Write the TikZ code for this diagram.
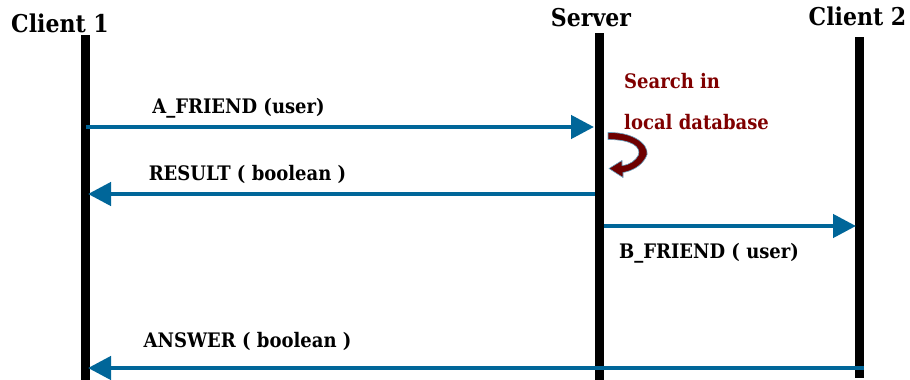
\documentclass[tikz,border=0pt]{standalone}
\usepackage{fontspec}
\setmainfont[FakeStretch=0.9]{DejaVu Serif}
\usetikzlibrary{arrows.meta}
\definecolor{msgblue}{RGB}{0,102,153}
\definecolor{noteRed}{RGB}{128,0,0}
\definecolor{loopRed}{RGB}{110,0,0}
\begin{document}
\begin{tikzpicture}[x=1pt,y=-1pt,
  actor/.style={font=\bfseries\fontsize{24.5}{28}\selectfont, inner sep=0pt, anchor=base},
  msglabel/.style={font=\bfseries\fontsize{20}{24}\selectfont, inner sep=0pt, anchor=base},
  note/.style={font=\bfseries\fontsize{20}{24}\selectfont, text=noteRed, inner sep=0pt, anchor=base west},
  lifeline/.style={line width=9pt, black},
  msg/.style={line width=4.5pt, msgblue, -{Triangle[length=23pt,width=23pt]}}
]
\useasboundingbox (0,0) rectangle (910,380);

% participants
\node[actor] (c1) at (60,32) {Client 1};
\node[actor] (srv) at (591,27) {Server};
\node[actor] (c2) at (857.5,25) {Client 2};

% lifeline ends
\coordinate (c1top) at (85.5,35);   \coordinate (c1bot) at (85.5,380);
\coordinate (srvtop) at (599,33);   \coordinate (srvbot) at (599,380);
\coordinate (c2top) at (859.5,37);  \coordinate (c2bot) at (859.5,378);

\draw[lifeline] (c1top) -- (c1bot);
\draw[lifeline] (srvtop) -- (srvbot);
\draw[lifeline] (c2top) -- (c2bot);

% message end points on the lifelines
\coordinate (m1s) at (86,127);  \coordinate (m1e) at (594,127);
\coordinate (m2s) at (595,194); \coordinate (m2e) at (88,194);
\coordinate (m3s) at (604,226); \coordinate (m3e) at (856,226);
\coordinate (m4s) at (864,368); \coordinate (m4e) at (88,368);

\draw[msg] (m1s) -- (m1e);
\draw[msg] (m2s) -- (m2e);
\draw[msg] (m3s) -- (m3e);
\draw[msg] (m4s) -- (m4e);

% message labels
\node[msglabel] (l1) at (238.5,113) {A\_FRIEND (user)};
\node[msglabel] (l2) at (247.5,180) {RESULT ( boolean )};
\node[msglabel] (l3) at (709,258) {B\_FRIEND ( user)};
\node[msglabel] (l4) at (247.5,347) {ANSWER ( boolean )};

% server-side lookup note
\node[note] (n1) at (624,88) {Search in};
\node[note] (n2) at (624,129) {local database};

% self-call loop arrow
\filldraw[fill=loopRed, draw=msgblue!60, line width=0.6pt, line join=round]
  (608,132.5) .. controls (640,132) and (652,150) .. (645.5,158)
  .. controls (641,166) and (632,171) .. (623,172.5)
  -- (623,177.5) -- (609,168.5) -- (622,160.5) -- (622,165.5)
  .. controls (630,165) and (636,160) .. (638.5,155)
  .. controls (641,147) and (632,139.5) .. (608,139.5) -- cycle;
\end{tikzpicture}
\end{document}
